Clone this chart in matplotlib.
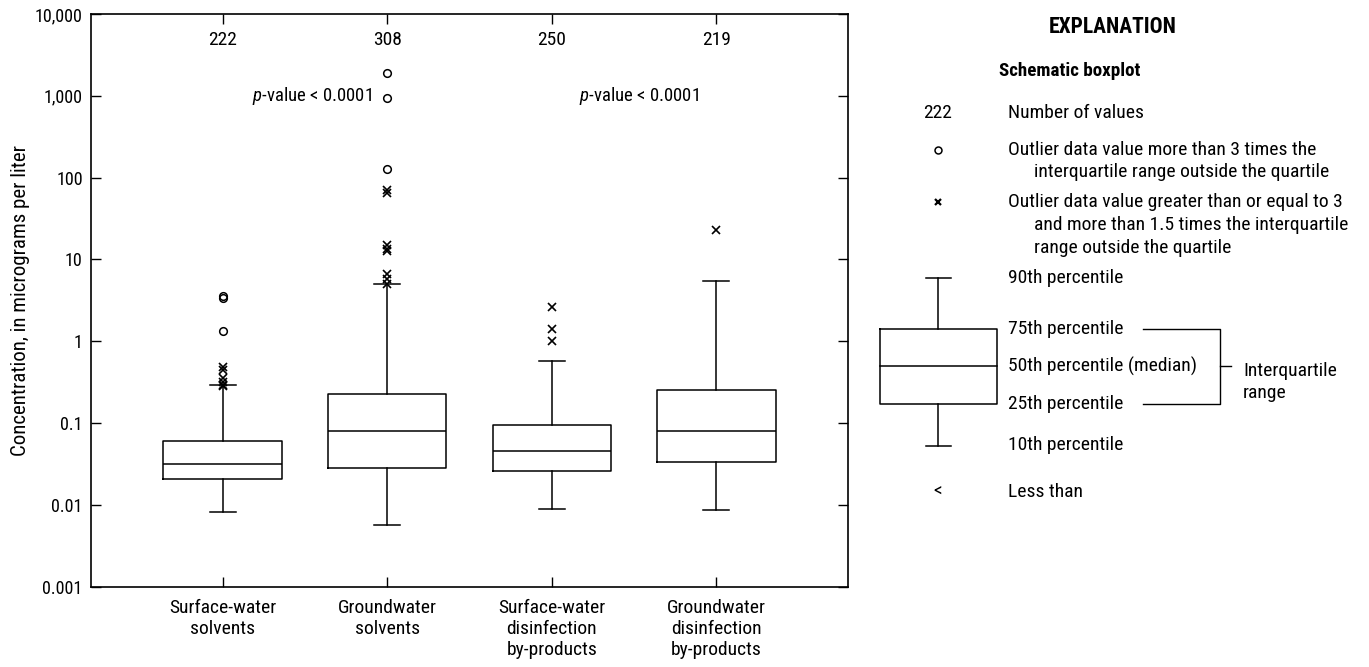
import matplotlib
matplotlib.use("Agg")
import matplotlib.pyplot as plt
from matplotlib import font_manager as fm
import numpy as np

# pick a narrow font if one is there
fonts = fm.fontManager.ttflist
names = {f.name for f in fonts}
if "Liberation Sans Narrow" in names:
    fam = "Liberation Sans Narrow"
elif "Roboto Condensed" in names:
    fam = "Roboto Condensed"
else:
    fam = "Roboto"
plt.rcParams['font.family'] = [fam, 'DejaVu Sans']
plt.rcParams['mathtext.fontset'] = 'custom'
plt.rcParams['mathtext.it'] = fam + ':italic'
plt.rcParams['mathtext.rm'] = fam

categories = ["Surface-water\nsolvents", "Groundwater\nsolvents",
              "Surface-water\ndisinfection\nby-products", "Groundwater\ndisinfection\nby-products"]
n_values = [222, 308, 250, 219]
p10 = [0.0081, 0.0056, 0.0090, 0.0087]
p25 = [0.0207, 0.028, 0.026, 0.033]
p50 = [0.032, 0.079, 0.045, 0.081]
p75 = [0.061, 0.225, 0.094, 0.257]
p90 = [0.296, 5.0, 0.57, 5.4]
far_out = [[3.4, 3.6, 1.35], [1900, 950, 128], [], []]
near_out = [[0.49, 0.45, 0.36, 0.32, 0.29, 0.28],
            [70, 64, 14.9, 13.5, 12.6, 6.6, 5.8, 5.0],
            [2.64, 1.42, 1.02],
            [22.7]]
pvalue_text = ["$\\it{p}$-value < 0.0001", "$\\it{p}$-value < 0.0001"]
pvalue_x = [1.54, 3.53]
ytick_vals = [0.001, 0.01, 0.1, 1, 10, 100, 1000, 10000]
ytick_labels = ["0.001", "0.01", "0.1", "1", "10", "100", "1,000", "10,000"]

fig = plt.figure(figsize=(13.69, 6.67), dpi=100)
ax = fig.add_axes([0.0665, 0.1204, 0.5529, 0.8586])

pos = np.arange(1, 5)
stats = []
for i in range(4):
    stats.append(dict(med=p50[i], q1=p25[i], q3=p75[i], whislo=p10[i], whishi=p90[i],
                      fliers=[], label=""))
lw = 1.1
ax.bxp(stats, positions=pos, widths=0.72, showfliers=False,
       boxprops=dict(color="black", linewidth=lw),
       medianprops=dict(color="black", linewidth=lw),
       whiskerprops=dict(color="black", linewidth=lw),
       capprops=dict(color="black", linewidth=lw),
       capwidths=0.16)

for i in range(4):
    if far_out[i]:
        ax.plot([pos[i]] * len(far_out[i]), far_out[i], "o", mfc="none", mec="black",
                ms=5.5, mew=1.1, zorder=3)
    if near_out[i]:
        ax.plot([pos[i]] * len(near_out[i]), near_out[i], "x", color="black",
                ms=6, mew=1.2, zorder=3)
    ax.text(pos[i], 4800, str(n_values[i]), ha="center", va="center", fontsize=14)

ax.text(pvalue_x[0], 1000, pvalue_text[0], ha="center", va="center", fontsize=13.5)
ax.text(pvalue_x[1], 1000, pvalue_text[1], ha="center", va="center", fontsize=13.5)

ax.set_yscale("log")
ax.set_ylim(0.001, 10000)
ax.set_xlim(0.2, 4.8)
ax.set_yticks(ytick_vals)
ax.set_yticklabels(ytick_labels, fontsize=13)
ax.yaxis.set_minor_locator(matplotlib.ticker.NullLocator())
ax.set_xticks(pos)
ax.set_xticklabels(categories, fontsize=14, linespacing=1.22)
ax.tick_params(axis="both", direction="in", length=7, width=1, top=True, right=True,
               color="black")
ax.tick_params(axis="x", pad=9)
ax.tick_params(axis="y", pad=6)
for s in ax.spines.values():
    s.set_linewidth(1.2)
ax.set_ylabel("Concentration, in micrograms per liter", fontsize=15)
ax.yaxis.set_label_coords(-0.081, 0.5)

# explanation panel
lg = fig.add_axes([0, 0, 1, 1])
lg.set_xlim(0, 1369)
lg.set_ylim(667, 0)
lg.axis("off")
fs = 14
sx = 938
tx = 1008
ix = 1034
lg.text(1113, 27, "EXPLANATION", ha="center", va="center", fontsize=15.5, fontweight="bold")
lg.text(1070, 71, "Schematic boxplot", ha="center", va="center", fontsize=13.7, fontweight="bold")
lg.text(sx, 113, "222", ha="center", va="center", fontsize=fs)
lg.text(tx, 113, "Number of values", ha="left", va="center", fontsize=fs)
lg.plot([sx], [150], "o", mfc="none", mec="black", ms=5, mew=1.1)
lg.text(tx, 150, "Outlier data value more than 3 times the", ha="left", va="center", fontsize=fs)
lg.text(ix, 172, "interquartile range outside the quartile", ha="left", va="center", fontsize=fs)
lg.plot([sx], [202], "x", color="black", ms=5, mew=1.6)
lg.text(tx, 202, "Outlier data value greater than or equal to 3", ha="left", va="center", fontsize=fs)
lg.text(ix, 225, "and more than 1.5 times the interquartile", ha="left", va="center", fontsize=fs)
lg.text(ix, 248, "range outside the quartile", ha="left", va="center", fontsize=fs)
# legend box glyph
lg.plot([926, 951], [278, 278], color="black", lw=lw)
lg.plot([sx, sx], [278, 329], color="black", lw=lw)
lg.plot([880, 997, 997, 880, 880], [329, 329, 404, 404, 329], color="black", lw=lw)
lg.plot([880, 997], [366, 366], color="black", lw=lw)
lg.plot([sx, sx], [404, 446], color="black", lw=lw)
lg.plot([926, 951], [446, 446], color="black", lw=lw)
lg.text(tx, 278, "90th percentile", ha="left", va="center", fontsize=fs)
lg.text(tx, 329, "75th percentile", ha="left", va="center", fontsize=fs)
lg.text(tx, 366, "50th percentile (median)", ha="left", va="center", fontsize=fs)
lg.text(tx, 404, "25th percentile", ha="left", va="center", fontsize=fs)
lg.text(tx, 445, "10th percentile", ha="left", va="center", fontsize=fs)
lg.text(sx, 492, "<", ha="center", va="center", fontsize=fs)
lg.text(tx, 492, "Less than", ha="left", va="center", fontsize=fs)
lg.plot([1143, 1220, 1220, 1143], [329, 329, 404, 404], color="black", lw=1)
lg.plot([1220, 1231], [366, 366], color="black", lw=1)
lg.text(1243, 382, "Interquartile\nrange", ha="left", va="center", fontsize=fs, linespacing=1.25)

fig.savefig("out.png", dpi=100)
